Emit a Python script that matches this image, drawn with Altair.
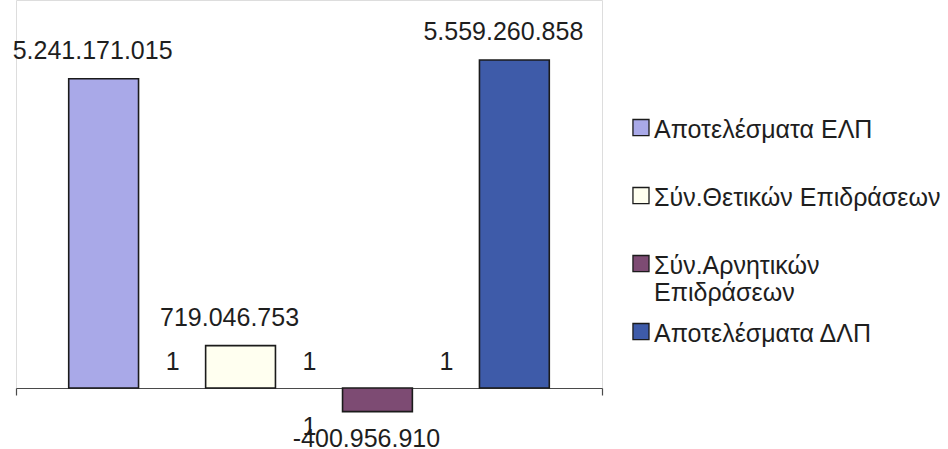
import json

import altair as alt
import pandas as pd

FONT = "Liberation Sans"
INK = "#1e1e1e"

# One category ("1") with four series, as in the source spreadsheet
category = "1"
series = [
    "Αποτελέσματα ΕΛΠ",
    "Σύν.Θετικών Επιδράσεων",
    "Σύν.Αρνητικών Επιδράσεων",
    "Αποτελέσματα ΔΛΠ",
]
values = [5241171015, 719046753, -400956910, 5559260858]
colors = ["#A9A9E8", "#FFFFF0", "#7D4B73", "#3E5BA9"]

# legend entries that wrap onto a second line
legend_wrap = {"Σύν.Αρνητικών Επιδράσεων": ["Σύν.Αρνητικών", "Επιδράσεων"]}

# series that carry the extra category-name label beside them
side_label_series = series[:3]

df = pd.DataFrame(
    {
        "cat": category,
        "series": series,
        "value": values,
        "label": [f"{v:,}".replace(",", ".") for v in values],
    }
)
side = pd.DataFrame({"cat": category, "series": side_label_series, "text": category})

PX_PER_UNIT = 59e-9
PLOT_W, PLOT_H = 586, 388
YMAX = PLOT_H / PX_PER_UNIT

# legend label expression: every label becomes two lines so rows share one height
expr = "[datum.label, '']"
for key, lines in legend_wrap.items():
    expr = f"datum.label == {json.dumps(key, ensure_ascii=False)} ? {json.dumps(lines, ensure_ascii=False)} : {expr}"

x = alt.X(
    "cat:N",
    scale=alt.Scale(paddingInner=0, paddingOuter=0),
    axis=alt.Axis(
        title=None,
        tickBand="extent",
        tickSize=7,
        labelPadding=19,
        labelAngle=0,
        labelFont=FONT,
        labelFontSize=25,
        labelColor=INK,
        domainColor="#4a4a4a",
        tickColor="#4a4a4a",
        domainWidth=1.2,
        tickWidth=1.2,
    ),
)
xo = alt.XOffset(
    "series:N",
    scale=alt.Scale(domain=series, paddingInner=0.49, paddingOuter=0.385),
)
y = alt.Y(
    "value:Q",
    scale=alt.Scale(domain=[0, YMAX], nice=False, zero=False),
    axis=None,
)

# custom square glyph: unit = half the symbol size, shifted to sit on the first text line
legend_square = "M-0.07,0.1H1V1.17H-0.07Z"

bars = (
    alt.Chart(df)
    .mark_bar(stroke="#1b1b1b", strokeWidth=1.6)
    .encode(
        x=x,
        xOffset=xo,
        y=y,
        color=alt.Color(
            "series:N",
            scale=alt.Scale(domain=series, range=colors),
            legend=alt.Legend(
                title=None,
                orient="none",
                legendX=602,
                legendY=102,
                padding=0,
                rowPadding=0,
                symbolType=legend_square,
                symbolSize=900,
                symbolStrokeColor="#1b1b1b",
                symbolStrokeWidth=1.3,
                symbolOpacity=1,
                labelFont=FONT,
                labelFontSize=25,
                labelColor=INK,
                labelBaseline="top",
                labelOffset=4,
                labelLimit=400,
                labelExpr=expr,
            ),
        ),
    )
)

text_style = dict(font=FONT, fontSize=25, color=INK, baseline="middle", dx=-11)

pos_labels = (
    alt.Chart(df)
    .transform_filter("datum.value >= 0")
    .mark_text(dy=-28, **text_style)
    .encode(x=x, xOffset=xo, y=y, text="label:N")
)
neg_labels = (
    alt.Chart(df)
    .transform_filter("datum.value < 0")
    .mark_text(dy=27, **text_style)
    .encode(x=x, xOffset=xo, y=y, text="label:N")
)
side_labels = (
    alt.Chart(side)
    .mark_text(font=FONT, fontSize=25, color=INK, baseline="middle", dx=69, dy=-26)
    .encode(x=x, xOffset=xo, y=alt.datum(0), text="text:N")
)

chart = (
    alt.layer(bars, pos_labels, neg_labels, side_labels)
    .properties(
        width=PLOT_W,
        height=PLOT_H,
        padding={"left": 16, "top": 0, "right": 948 - 16 - PLOT_W, "bottom": 449 - PLOT_H},
        autosize=alt.AutoSizeParams(type="none"),
        background="white",
    )
    .configure_view(stroke=None)
    .configure(style={"guide-label": {"lineHeight": 27}})
)

chart.save("out.html", embed_options={"renderer": "svg", "actions": False})
